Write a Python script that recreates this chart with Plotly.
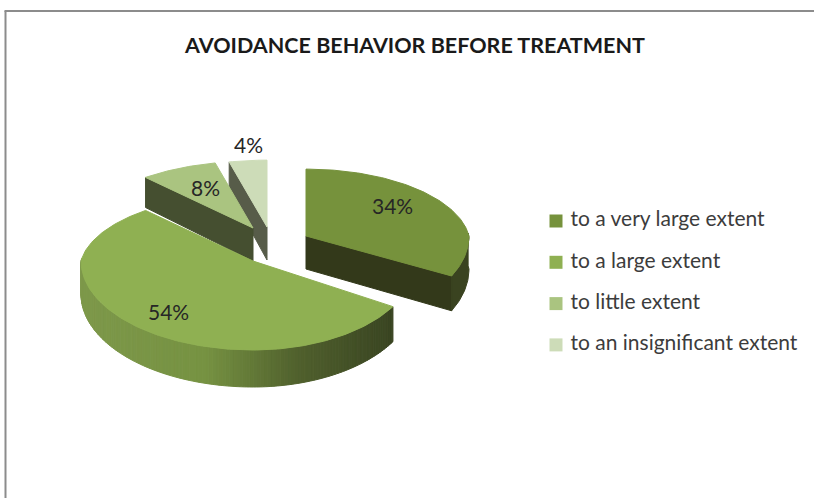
import math
import plotly.graph_objects as go

# ---- data ----
CATEGORIES = ["to a very large extent", "to a large extent", "to little extent", "to an insignificant extent"]
VALUES = [34, 54, 8, 4]
TITLE = "AVOIDANCE BEHAVIOR BEFORE TREATMENT"

# ---- style ----
W, H = 814, 498
FONT = "Lato"
TOP_COLORS = ["#76923c", "#8fb052", "#aac480", "#cddcb8"]
RADIAL_WALL = ["#33391a", "#3c4722", "#454f30", "#575c49"]
CENTER = (270, 235)
EXPLODE_X = [36, -17, -17, -3]
EXPLODE_Y = [1, 26, -7, -8]
AL, AR, BT, BB = 172, 163, 76, 89
WARP = [0.11, 0.03, 0.0, 0.0]
LABEL_POS = [(392, 205), (168, 311), (205, 187), (248, 144)]
LEGEND_X, LEGEND_Y, LEGEND_STEP = 556, 221, 41.3
WALL_STOPS = [(0.0, (125, 152, 74)), (0.4, (118, 146, 66)), (0.7, (80, 96, 45)), (1.0, (58, 69, 34))]


def project(theta, apex, z=0.0, warp=0.0):
    if math.pi / 2 < theta < math.pi:
        theta -= warp * math.sin(2 * (theta - math.pi / 2))
    X, Y = math.sin(theta), math.cos(theta)
    s = 1 - 0.12 * max(Y, 0)
    px = apex[0] + s * (AR if X > 0 else AL) * X
    py = apex[1] - s * (BT if Y > 0 else BB) * Y
    return px, py + z * (33 - 4 * Y)


def wall_color(t):
    for (t0, c0), (t1, c1) in zip(WALL_STOPS, WALL_STOPS[1:]):
        if t <= t1:
            f = (t - t0) / (t1 - t0)
            return "rgb(%d,%d,%d)" % tuple(round(a + (b - a) * f) for a, b in zip(c0, c1))
    return "rgb(58,69,34)"


def poly(xs, ys, color):
    return go.Scatter(x=xs + xs[:1], y=ys + ys[:1], mode="lines", fill="toself", fillcolor=color,
                      line=dict(color=color, width=1), showlegend=False, hoverinfo="skip")


total = sum(VALUES)
angles = [0.0]
for v in VALUES:
    angles.append(angles[-1] + 2 * math.pi * v / total)

fig = go.Figure()
for i in [3, 2, 0, 1]:
    a0, a1 = angles[i], angles[i + 1]
    w = WARP[i]
    apex = (CENTER[0] + EXPLODE_X[i], CENTER[1] + EXPLODE_Y[i])
    bot = (apex[0], apex[1] + 33)
    n = max(int((a1 - a0) / 0.02), 2)
    ts = [a0 + (a1 - a0) * k / n for k in range(n + 1)]

    # radial wall facing the viewer
    wall_t = a1 if i == 0 else (a0 if i in (2, 3) else None)
    if wall_t is not None:
        p, q = project(wall_t, apex, 0, w), project(wall_t, apex, 1, w)
        fig.add_trace(poly([apex[0], p[0], q[0], bot[0]], [apex[1], p[1], q[1], bot[1]], RADIAL_WALL[i]))

    # outer rim, visible on the front half
    front = [t for t in ts if math.cos(t) < 0.05]
    if i == 0 and front:
        up = [project(t, apex, 0, w) for t in front]
        lo = [project(t, apex, 1, w) for t in front]
        fig.add_trace(poly([p[0] for p in up] + [p[0] for p in lo[::-1]],
                           [p[1] for p in up] + [p[1] for p in lo[::-1]], "#3a4320"))
    if i == 1:
        xmin = apex[0] - AL
        xmax = apex[0] + AR * math.sin(a0)
        for k in range(len(front) - 1):
            seg = front[k:k + 2]
            up = [project(t, apex, 0, w) for t in seg]
            lo = [project(t, apex, 1, w) for t in seg]
            t = (sum(p[0] for p in up) / len(up) - xmin) / (xmax - xmin)
            fig.add_trace(poly([p[0] for p in up] + [p[0] for p in lo[::-1]],
                               [p[1] for p in up] + [p[1] for p in lo[::-1]],
                               wall_color(max(0, min(1, t)))))

    # top face
    pts = [project(t, apex, 0, w) for t in ts]
    fig.add_trace(poly([apex[0]] + [p[0] for p in pts], [apex[1]] + [p[1] for p in pts], TOP_COLORS[i]))

# legend drawn as labelled markers
for i, (name, col) in enumerate(zip(CATEGORIES, TOP_COLORS)):
    fig.add_trace(go.Scatter(x=[LEGEND_X], y=[LEGEND_Y + i * LEGEND_STEP], mode="markers+text",
                             marker=dict(symbol="square", size=13, color=col),
                             text=[" " + name], textposition="middle right", name=name,
                             textfont=dict(family=FONT, size=21, color="#3c3c3c"),
                             showlegend=False, hoverinfo="skip"))

annotations = [dict(x=x, y=y, xref="x", yref="y", text=f"{v}%", showarrow=False,
                    font=dict(family=FONT, size=21, color="#262626"))
               for (x, y), v in zip(LABEL_POS, VALUES)]

fig.update_layout(
    width=W, height=H, margin=dict(l=0, r=0, t=0, b=0),
    paper_bgcolor="white", plot_bgcolor="white", showlegend=False,
    title=dict(text=f"<b>{TITLE}</b>", x=415 / W, xanchor="center", y=1 - 45 / H, yanchor="middle",
               font=dict(family=FONT, size=21.5, color="#1a1a1a")),
    xaxis=dict(range=[0, W], visible=False, fixedrange=True),
    yaxis=dict(range=[H, 0], visible=False, fixedrange=True),
    annotations=annotations,
    shapes=[
        dict(type="line", xref="paper", yref="paper", x0=5.5 / W, x1=5.5 / W, y0=0, y1=1 - 11 / H,
             line=dict(color="#8c8c8c", width=2)),
        dict(type="line", xref="paper", yref="paper", x0=4.5 / W, x1=1, y0=1 - 11 / H, y1=1 - 11 / H,
             line=dict(color="#8c8c8c", width=2)),
    ],
)
fig.write_html("out.html", config=dict(displayModeBar=False),
               post_script="document.body.style.margin='0';")
